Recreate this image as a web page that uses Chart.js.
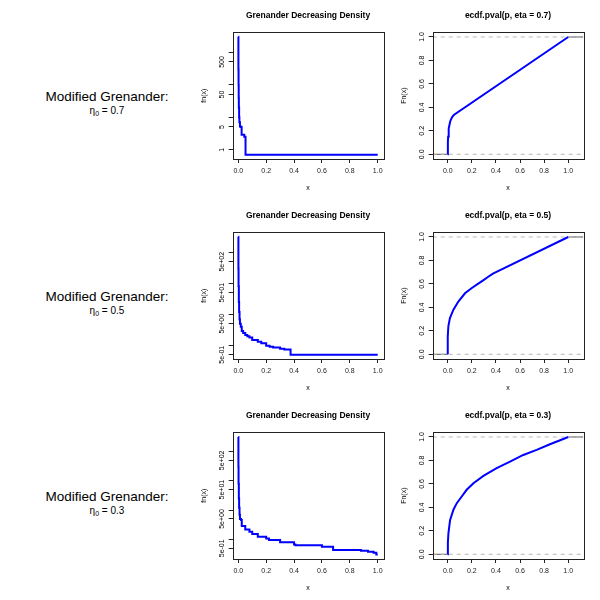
<!DOCTYPE html>
<html>
<head>
<meta charset="utf-8">
<script src="https://cdn.jsdelivr.net/npm/chart.js@4.4.1/dist/chart.umd.min.js"></script>
<style>
  body { margin: 0; background: #fff; width: 600px; height: 600px; position: relative; overflow: hidden;
         font-family: "Liberation Sans", Arial, sans-serif; }
  canvas { position: absolute; }
  .lab { position: absolute; left: 0; width: 214px; text-align: center; color: #000; white-space: nowrap; }
  .big { font-size: 13.5px; line-height: 16px; }
  .eta { font-size: 10px; line-height: 12px; }
  .eta sub { font-size: 7px; vertical-align: -2px; }
</style>
</head>
<body>
<div id="labels"></div>
<canvas id="d1" width="200" height="200" style="left:200px;top:0px"></canvas>
<canvas id="e1" width="200" height="200" style="left:400px;top:0px"></canvas>
<canvas id="d2" width="200" height="200" style="left:200px;top:200px"></canvas>
<canvas id="e2" width="200" height="200" style="left:400px;top:200px"></canvas>
<canvas id="d3" width="200" height="200" style="left:200px;top:400px"></canvas>
<canvas id="e3" width="200" height="200" style="left:400px;top:400px"></canvas>
<script>
const etas = ['0.7', '0.5', '0.3'];
const xTicks = [0, 0.2, 0.4, 0.6, 0.8, 1.0];

// Grenander density estimates (step functions)
const dens1X = [0, 0.001, 0.002, 0.003, 0.004, 0.006, 0.008, 0.012, 0.018, 0.024, 0.043, 0.052, 1.0];
const dens1Y = [3000, 300, 100, 40, 20, 10, 7, 5.2, 5, 2.9, 2.5, 0.7, 0.7];
const dens2X = [0, 0.001, 0.002, 0.004, 0.006, 0.009, 0.012, 0.018, 0.025, 0.035, 0.05, 0.065, 0.08, 0.1, 0.14, 0.165, 0.2, 0.225, 0.25, 0.3, 0.33, 0.375, 1.0];
const dens2Y = [3200, 300, 80, 25, 12, 7, 5, 4, 2.9, 2.5, 2.15, 1.95, 1.8, 1.5, 1.31, 1.16, 0.98, 0.9, 0.86, 0.78, 0.74, 0.5, 0.5];
const dens3X = [0, 0.001, 0.002, 0.004, 0.006, 0.009, 0.012, 0.02, 0.025, 0.05, 0.08, 0.1, 0.14, 0.2, 0.22, 0.3, 0.4, 0.41, 0.6, 0.68, 0.88, 0.93, 0.97, 0.99, 1.0];
const dens3Y = [3100, 300, 80, 25, 12, 7, 5, 4.6, 2.9, 2.2, 1.84, 1.53, 1.24, 1.09, 0.96, 0.8, 0.68, 0.63, 0.56, 0.44, 0.41, 0.385, 0.35, 0.31, 0.31];

// empirical CDFs of the p-values
const ecdf1X = [0, 0.001, 0.003, 0.0055, 0.01, 0.014, 0.02, 0.028, 0.038, 0.05, 1.0];
const ecdf1Y = [0, 0.1, 0.15, 0.18, 0.22, 0.25, 0.28, 0.3, 0.32, 0.335, 1.0];
const ecdf2X = [0, 0, 0.005, 0.018, 0.047, 0.088, 0.143, 0.2, 0.25, 0.3, 0.33, 0.375, 1.0];
const ecdf2Y = [0, 0.153, 0.238, 0.309, 0.38, 0.45, 0.52, 0.565, 0.6, 0.635, 0.657, 0.6875, 1.0];
const ecdf3X = [0, 0.001, 0.0055, 0.019, 0.047, 0.075, 0.116, 0.157, 0.213, 0.296, 0.406, 0.517, 0.627, 0.738, 0.848, 0.959, 1.0];
const ecdf3Y = [0, 0.1, 0.18, 0.29, 0.38, 0.436, 0.493, 0.55, 0.606, 0.669, 0.734, 0.79, 0.847, 0.89, 0.938, 0.983, 1.0];

const densTicks1 = [1, 5, 10, 50, 100, 500, 1000];
const densLabels1 = ['1', '5', '', '50', '', '500', ''];
const densTicksSci = [0.5, 1, 5, 10, 50, 100, 500, 1000];
const densLabelsSci = ['5e-01', '', '5e+00', '', '5e+01', '', '5e+02', ''];
const ecdfTicks = [0, 0.2, 0.4, 0.6, 0.8, 1.0];
const ecdfLabels = ['0.0', '0.2', '0.4', '0.6', '0.8', '1.0'];

const FONT = '"Liberation Sans", Arial, sans-serif';
const INK = '#222';

// left-hand row labels
const labels = document.getElementById('labels');
etas.forEach((e, i) => {
  const top = i * 200;
  labels.innerHTML +=
    `<div class="lab big" style="top:${top + 89}px">Modified Grenander:</div>` +
    `<div class="lab eta" style="top:${top + 105}px">&eta;<sub>0</sub> = ${e}</div>`;
});

const frame = {
  id: 'frame',
  afterDraw(chart, args, o) {
    const { ctx, chartArea: a } = chart;
    ctx.save();
    ctx.strokeStyle = INK;
    ctx.lineWidth = 1;
    ctx.strokeRect(Math.round(a.left) + 0.5, Math.round(a.top) + 0.5,
      Math.round(a.right - a.left), Math.round(a.bottom - a.top));
    ctx.fillStyle = '#000';
    ctx.textAlign = 'center';
    ctx.textBaseline = 'middle';
    const cx = (a.left + a.right) / 2;
    ctx.font = `bold 8.5px ${FONT}`;
    ctx.fillText(o.title, cx, 16);
    ctx.font = `7px ${FONT}`;
    ctx.fillText('x', cx, 188);
    ctx.save();
    ctx.translate(4, (a.top + a.bottom) / 2);
    ctx.rotate(-Math.PI / 2);
    ctx.fillText(o.ylab, 0, 0);
    ctx.restore();
    const ys = chart.scales.y;
    o.ticks.forEach((v, i) => {
      if (!o.labels[i]) return;
      ctx.save();
      ctx.translate(a.left - 11, ys.getPixelForValue(v));
      ctx.rotate(-Math.PI / 2);
      ctx.fillText(o.labels[i], 0, 0);
      ctx.restore();
    });
    ctx.restore();
  }
};

function pts(xs, ys) {
  return xs.map((x, i) => ({ x, y: ys[i] }));
}

function axisBase(ticks) {
  return {
    afterBuildTicks: s => { s.ticks = ticks.map(v => ({ value: v })); },
    grid: { drawOnChartArea: false, tickLength: 4, color: INK, lineWidth: 1 },
    border: { display: false }
  };
}

function makePanel(id, datasets, xr, yType, yr, yTicks, yLabels, title, ylab) {
  new Chart(document.getElementById(id), {
    type: 'line',
    data: { datasets },
    options: {
      responsive: false,
      animation: false,
      devicePixelRatio: 1,
      layout: { padding: { left: 0, right: 16.7, top: 32.3, bottom: 0 } },
      plugins: {
        legend: { display: false },
        tooltip: { enabled: false },
        frame: { title, ylab, ticks: yTicks, labels: yLabels }
      },
      scales: {
        x: Object.assign(axisBase(xTicks), {
          type: 'linear', min: xr[0], max: xr[1],
          afterFit: s => { s.height = 41; },
          ticks: { font: { size: 7, family: FONT }, color: INK, padding: 4, maxRotation: 0,
                   autoSkip: false, callback: v => v.toFixed(1) }
        }),
        y: Object.assign(axisBase(yTicks), {
          type: yType, min: yr[0], max: yr[1],
          afterFit: s => { s.width = 32.7; },
          ticks: { display: false }
        })
      }
    },
    plugins: [frame]
  });
}

const densSets = [[dens1X, dens1Y], [dens2X, dens2Y], [dens3X, dens3Y]];
const densRanges = [[0.518, 4093], [0.363, 4436], [0.216, 4508]];
const ecdfSets = [[ecdf1X, ecdf1Y], [ecdf2X, ecdf2Y], [ecdf3X, ecdf3Y]];
const ecdfXr = [-0.125, 1.125];

densSets.forEach(([xs, ys], i) => {
  makePanel('d' + (i + 1), [{
    data: pts(xs, ys), borderColor: '#0000ff', borderWidth: 2, pointRadius: 0, stepped: true, fill: false
  }], [-0.04, 1.04], 'logarithmic', densRanges[i],
  i === 0 ? densTicks1 : densTicksSci, i === 0 ? densLabels1 : densLabelsSci,
  'Grenander Decreasing Density', 'fn(x)');
});

ecdfSets.forEach(([xs, ys], i) => {
  const line = (d, color, dash, order, w) => ({
    data: d, borderColor: color, borderWidth: w, borderDash: dash, pointRadius: 0, fill: false, order
  });
  makePanel('e' + (i + 1), [
    line(pts(xs, ys), '#0000ff', [], 0, 2),
    line(pts(ecdfXr, [0, 0]), '#b8b8b8', [4, 4], 1, 1),
    line(pts(ecdfXr, [1, 1]), '#b8b8b8', [4, 4], 1, 1),
    line(pts([ecdfXr[0], 0], [0, 0]), '#555', [], 2, 1),
    line(pts([1, ecdfXr[1]], [1, 1]), '#555', [], 2, 1)
  ], ecdfXr, 'linear', [-0.04, 1.04], ecdfTicks, ecdfLabels,
  `ecdf.pval(p, eta = ${etas[i]})`, 'Fn(x)');
});
</script>
</body>
</html>
